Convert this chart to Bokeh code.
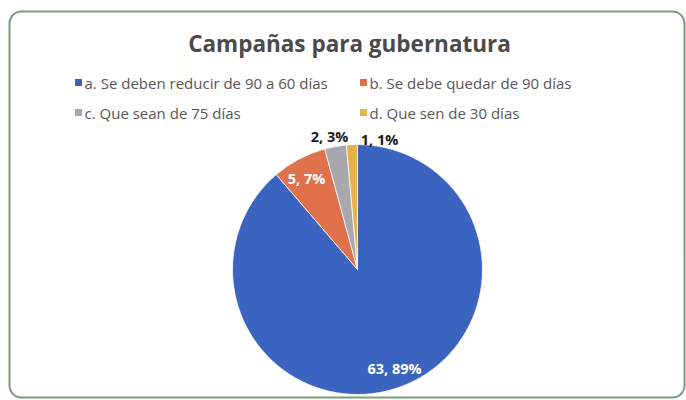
import numpy as np
from bokeh.plotting import figure
from bokeh.models import Range1d, ColumnDataSource
from bokeh.core.properties import value
from bokeh.embed import file_html
from bokeh.resources import INLINE

# ---- data ----
title = "Campañas para gubernatura"
categories = ["a. Se deben reducir de 90 a 60 días",
              "b. Se debe quedar de 90 días",
              "c. Que sean de 75 días",
              "d. Que sen de 30 días"]
counts = [63, 5, 2, 1]
percents = [89, 7, 3, 1]

# ---- style ----
colors = ["#3b64c0", "#e0714d", "#a9a9ad", "#e6b24a"]
label_colors = ["white", "white", "#1a1a1a", "#1a1a1a"]
FONT = "Open Sans"

W, H = 686, 400
def Y(yref):
    return H - yref

p = figure(width=W, height=H, x_range=Range1d(0, W), y_range=Range1d(0, H),
           output_backend="svg", toolbar_location=None, min_border=0)
p.axis.visible = False
p.grid.visible = False
p.outline_line_color = None
p.background_fill_color = "white"
p.border_fill_color = "white"

# frame border (rounded)
p.quad(left=[9], right=[684], top=[Y(11)], bottom=[Y(397)], fill_color=None,
       line_color="#7d9c7d", line_width=2, border_radius=12)

# title
p.text(x=[349], y=[Y(43)], text=[title], text_font=value(FONT), text_font_size="22.5px",
       text_font_style="bold", text_color="#4a4a4a", text_align="center",
       text_baseline="middle")

# pie
cx, cy, R = 357, Y(269), 125
vals = np.array(counts, dtype=float)
frac = vals / vals.sum()
cum = np.concatenate([[0], np.cumsum(frac)])
start = np.pi / 2 - 2 * np.pi * cum[:-1]
end = np.pi / 2 - 2 * np.pi * cum[1:]
src = ColumnDataSource(dict(start=start, end=end, color=colors))
p.wedge(x=cx, y=cy, radius=R, start_angle="start", end_angle="end",
        direction="clock", fill_color="color", line_color="white",
        line_width=0.8, source=src)

# data labels (offsets from pie center in px: layout)
label_pos = [(37, -99), (-51, 91), (-28, 133), (22, 130)]
lx = [cx + dx for dx, dy in label_pos]
ly = [cy + dy for dx, dy in label_pos]
ltext = [f"{c}, {q}%" for c, q in zip(counts, percents)]
p.text(x=lx, y=ly, text=ltext, text_font=value(FONT), text_font_size="14.5px",
       text_font_style="bold", text_color=label_colors, text_align="center",
       text_baseline="middle")

# legend (2 columns x 2 rows)
leg_x = [78, 363, 78, 363]
leg_y = [Y(82), Y(82), Y(112), Y(112)]
p.rect(x=leg_x, y=leg_y, width=7, height=7, fill_color=colors, line_color=None)
p.text(x=[x + 6 for x in leg_x], y=leg_y, text=categories, text_font=value(FONT),
       text_font_size="15px", text_color="#575757", text_align="left",
       text_baseline="middle")

open("out.html", "w").write(file_html(p, INLINE))
